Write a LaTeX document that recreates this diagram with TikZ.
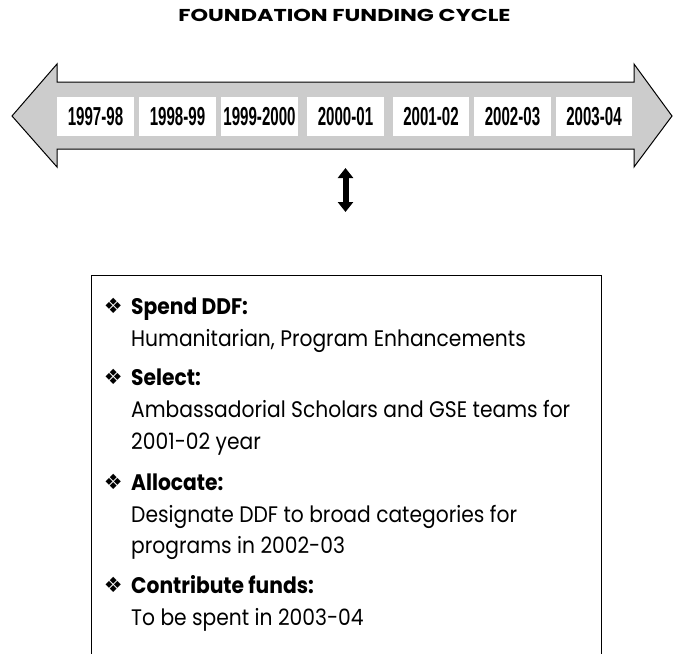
\documentclass[tikz,border=0pt]{standalone}
\usepackage{fontspec}
\setmainfont{Poppins}
\newfontfamily\bodyfont[FakeStretch=0.9]{Poppins}
\newfontfamily\titlefont[FakeStretch=1.3]{Poppins}
\newfontfamily\symfont{DejaVu Sans}
\newfontfamily\yearfont[FakeStretch=0.58]{Liberation Sans}
\usetikzlibrary{arrows.meta, positioning}

\begin{document}
\begin{tikzpicture}[
    x=1pt, y=-1pt,
    band/.style={draw=black, line width=1pt, fill=black!20, line join=miter},
    yearbox/.style={fill=white, inner sep=0pt, minimum height=39pt,
                    font=\yearfont\bfseries\fontsize{26}{26}\selectfont},
    title/.style={anchor=base, inner sep=0pt, font=\titlefont\bfseries\fontsize{17.2}{17.2}\selectfont},
    head/.style={anchor=base west, inner sep=0pt, font=\bodyfont\bfseries\fontsize{22.5}{22.5}\selectfont},
    body/.style={anchor=base west, inner sep=0pt, font=\bodyfont\fontsize{22.5}{22.5}\selectfont},
    bullet/.style={inner sep=0pt, font=\symfont\fontsize{21}{21}\selectfont},
    dblarrow/.style={line width=6pt, {Triangle[width=15pt,length=10pt]}-{Triangle[width=15pt,length=10pt]}}
  ]
  \useasboundingbox (0,0) rectangle (673,654);

  % --- Title ---
  \node (title) [title] at (344.5,21) {FOUNDATION FUNDING CYCLE};

  % --- Time band (double headed arrow) ---
  \draw [band] (12,116) -- (57,64) -- (57,82) -- (634,82) -- (634,64) -- (672,116)
        -- (634,167) -- (634,149) -- (57,149) -- (57,167) -- cycle;

  % Year boxes
  \foreach \lbl/\xa/\xb [count=\i] in {1997-98/57/134, 1998-99/139/216, 1999-2000/221/298,
        2000-01/307/384, 2001-02/393/469, 2002-03/474/551, 2003-04/556/632}
    \node (yr\i) [yearbox, minimum width=\xb pt-\xa pt] at ({(\xa+\xb)/2},116.5) {\lbl};

  % Link arrow
  \coordinate (linktop) at (345.5,168);
  \coordinate (linkbot) at (345.5,212);
  \draw [dblarrow] (linktop) -- (linkbot);

  % --- Activity box (open at the bottom) ---
  \draw [line width=1pt] (91,654) |- (601,275) -- (601,654);

  \node (spendhd) [head] at (131,314) {Spend DDF:};
  \node (spendtxt) [body] at (131,346) {Humanitarian, Program Enhancements};

  \node (selecthd) [head] at (131,385) {Select:};
  \node (selecttxt) [body] at (131,417) {Ambassadorial Scholars and GSE teams for};
  \node (selecttxt2) [body] at (131,449) {2001-02 year};

  \node (allochd) [head] at (131,490) {Allocate:};
  \node (alloctxt) [body] at (131,522) {Designate DDF to broad categories for};
  \node (alloctxt2) [body] at (131,553) {programs in 2002-03};

  \node (contribhd) [head] at (131,593) {Contribute funds:};
  \node (contribtxt) [body] at (131,625) {To be spent in 2003-04};

  % Bullets
  \foreach \nm in {spendhd, selecthd, allochd, contribhd}
    \node [bullet, left=8pt of \nm.base west, yshift=8.5pt] {❖};

\end{tikzpicture}
\end{document}
